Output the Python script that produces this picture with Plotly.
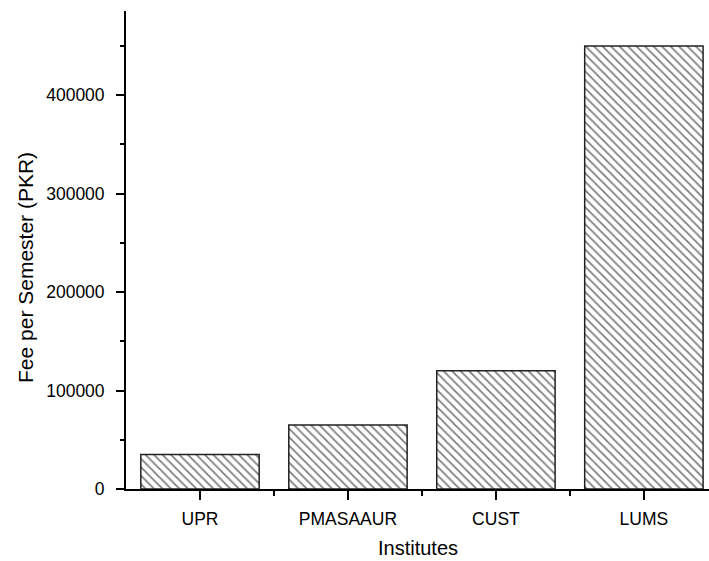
import plotly.graph_objects as go

categories = ["UPR", "PMASAAUR", "CUST", "LUMS"]
fees = [35000, 65000, 120000, 450000]
y_ticks = [0, 100000, 200000, 300000, 400000]
y_tick_labels = ["0", "100000", "200000", "300000", "400000"]
y_minor_ticks = [50000, 150000, 250000, 350000, 450000]

positions = list(range(len(categories)))
x_minor_ticks = [p + 0.5 for p in positions[:-1]]

FONT = "Liberation Sans, Arial, sans-serif"

fig = go.Figure()
fig.add_trace(go.Bar(
    x=positions,
    y=fees,
    width=0.8,
    marker=dict(
        color="white",
        line=dict(color="#222222", width=1.5),
        pattern=dict(shape="\\", fgcolor="black", bgcolor="white", size=6, solidity=0.3),
    ),
    showlegend=False,
))

fig.update_layout(
    width=709,
    height=561,
    margin=dict(l=126, r=0, t=11, b=72),
    paper_bgcolor="white",
    plot_bgcolor="white",
    font=dict(family=FONT, color="black"),
    xaxis=dict(
        range=[-0.5, 3.44],
        tickmode="array",
        tickvals=positions,
        ticktext=categories,
        ticks="outside",
        ticklen=9,
        tickwidth=1.8,
        tickcolor="black",
        showline=True,
        linecolor="black",
        linewidth=1.8,
        showgrid=False,
        zeroline=False,
        ticklabelstandoff=4,
        tickfont=dict(size=17.5, family=FONT, color="black"),
        minor=dict(tickmode="array", tickvals=x_minor_ticks, ticks="outside",
                   ticklen=5, tickwidth=1.8, tickcolor="black", showgrid=False),
    ),
    yaxis=dict(
        range=[0, 485500],
        tickmode="array",
        tickvals=y_ticks,
        ticktext=y_tick_labels,
        ticks="outside",
        ticklen=8,
        tickwidth=1.8,
        tickcolor="black",
        showline=True,
        linecolor="black",
        linewidth=1.8,
        showgrid=False,
        zeroline=False,
        ticklabelstandoff=8,
        tickfont=dict(size=17.5, family=FONT, color="black"),
        minor=dict(tickmode="array", tickvals=y_minor_ticks,
                   ticks="outside", ticklen=4, tickwidth=1.8, tickcolor="black", showgrid=False),
    ),
    annotations=[
        dict(text="Institutes", xref="paper", yref="paper", x=0.5, y=0,
             xanchor="center", yanchor="middle", yshift=-59, showarrow=False,
             font=dict(size=20, family=FONT, color="black")),
        dict(text="Fee per Semester (PKR)", xref="paper", yref="paper", x=0, y=0.5,
             xanchor="center", yanchor="middle", xshift=-101, yshift=-18, textangle=-90,
             showarrow=False, font=dict(size=21, family=FONT, color="black")),
    ],
)

fig.write_html(
    "out.html",
    config={"displayModeBar": False},
    post_script="document.body.style.margin='0px';document.body.style.overflow='hidden';",
)
